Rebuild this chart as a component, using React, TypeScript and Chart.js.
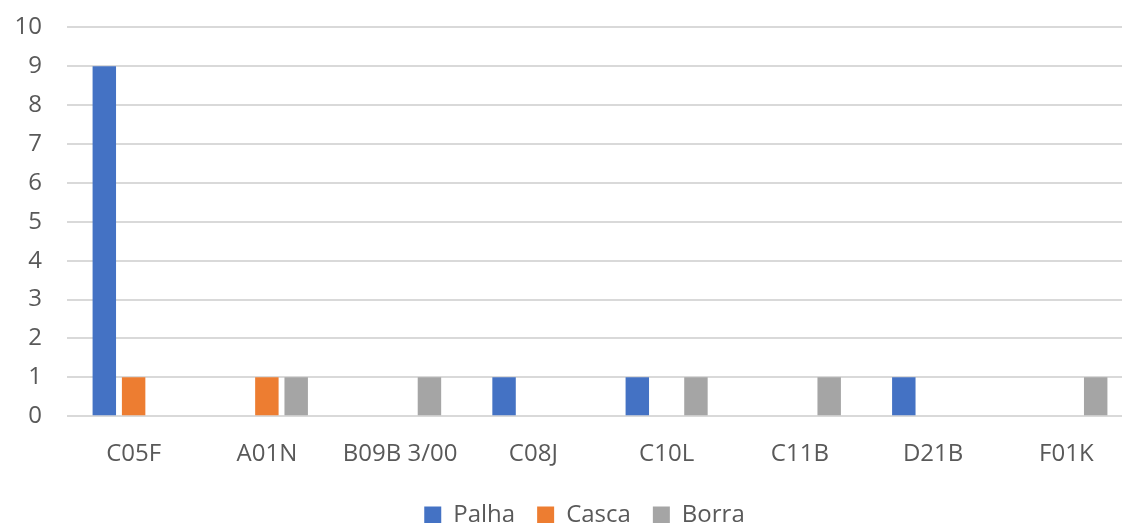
import React, { useEffect, useRef } from "react";
import { Chart, registerables } from "chart.js";

Chart.register(...registerables);

const categories = ["C05F", "A01N", "B09B 3/00", "C08J", "C10L", "C11B", "D21B", "F01K"];
const palha = [9, 0, 0, 1, 1, 0, 1, 0];
const casca = [1, 1, 0, 0, 0, 0, 0, 0];
const borra = [0, 1, 1, 0, 1, 1, 0, 1];

const FONT = "'Open Sans', 'Noto Sans', sans-serif";
const TEXT = "#595959";

const legendShift = {
  id: "legendShift",
  afterLayout(chart: any) {
    const lg = chart.legend;
    if (lg) {
      lg.left += 18;
      lg.right += 18;
    }
  },
};

export default function App() {
  const ref = useRef<HTMLCanvasElement | null>(null);

  useEffect(() => {
    if (!ref.current) return;
    const chart = new Chart(ref.current, {
      type: "bar",
      data: {
        labels: categories,
        datasets: [
          { label: "Palha", data: palha, backgroundColor: "#4472C4" },
          { label: "Casca", data: casca, backgroundColor: "#ED7D31" },
          { label: "Borra", data: borra, backgroundColor: "#A5A5A5" },
        ],
      },
      options: {
        animation: false,
        responsive: true,
        maintainAspectRatio: false,
        datasets: { bar: { categoryPercentage: 0.66, barPercentage: 0.8 } },
        layout: { padding: { top: 2, right: 35, left: 0, bottom: 0 } },
        plugins: {
          tooltip: { enabled: false },
          legend: {
            position: "bottom",
            labels: {
              boxWidth: 17,
              boxHeight: 17,
              padding: 22,
              color: TEXT,
              font: { family: FONT, size: 24 },
            },
          },
        },
        scales: {
          x: {
            afterFit: (s: any) => { s.height = s.height - 12; },
            grid: { display: false, drawTicks: false },
            border: { display: false },
            ticks: { color: TEXT, font: { family: FONT, size: 24 }, padding: 24, maxRotation: 0 },
          },
          y: {
            min: 0,
            max: 10,
            afterFit: (s: any) => { s.width = 67; },
            grid: { color: "#D9D9D9", lineWidth: 2, drawTicks: false },
            border: { display: false },
            ticks: { stepSize: 1, color: TEXT, font: { family: FONT, size: 24 }, padding: 25 },
          },
        },
      },
      plugins: [legendShift],
    });
    return () => chart.destroy();
  }, []);

  return (
    <div style={{ position: "fixed", left: 0, top: 0, width: 1122, height: 523, overflow: "hidden", background: "#fff" }}>
      <div style={{ position: "absolute", left: 0, top: -12, width: 1168, height: 549 }}>
        <canvas ref={ref} />
      </div>
    </div>
  );
}
